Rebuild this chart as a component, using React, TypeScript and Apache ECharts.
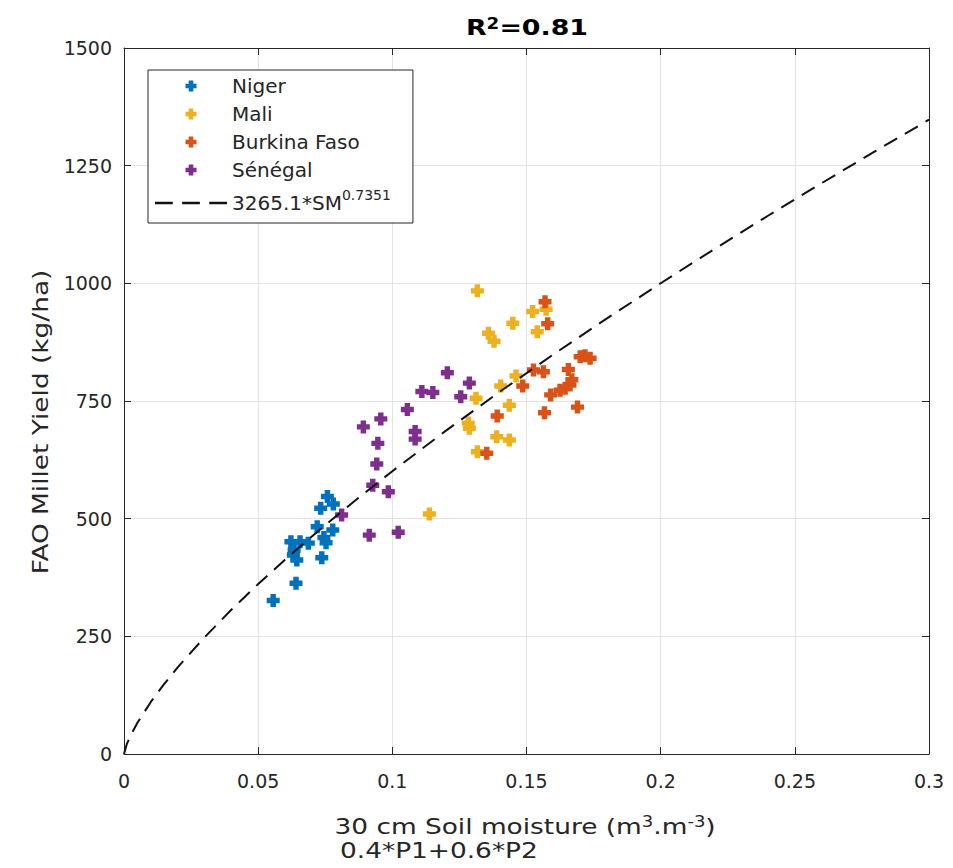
import React, { useEffect, useRef } from "react";
import * as echarts from "echarts";

const countries = ["Niger", "Mali", "Burkina Faso", "Sénégal"];
const colors = ["#0072BD", "#EDB120", "#D95319", "#7E2F8E"];
const fitName = "3265.1*SM^0.7351";

const nigerX = [0.0556, 0.0641, 0.0622, 0.0656, 0.0687, 0.0631, 0.0644, 0.0634, 0.0737, 0.072, 0.0733, 0.0758, 0.078, 0.0778, 0.0745, 0.0753];
const nigerY = [326, 363, 451, 451, 448, 423, 412, 433, 417, 483, 522, 547, 531, 476, 460, 449];

const maliX = [0.1317, 0.1358, 0.1379, 0.1449, 0.1523, 0.1573, 0.154, 0.1461, 0.1404, 0.1312, 0.1436, 0.1283, 0.1287, 0.1389, 0.1436, 0.1317, 0.1138];
const maliY = [984, 894, 877, 915, 940, 945, 897, 803, 782, 756, 741, 703, 692, 674, 667, 642, 510];

const burkinaX = [0.1569, 0.1579, 0.1526, 0.1563, 0.1486, 0.1391, 0.1567, 0.1352, 0.17, 0.1718, 0.1737, 0.1656, 0.1669, 0.1662, 0.1644, 0.1625, 0.159, 0.169];
const burkinaY = [961, 914, 816, 812, 782, 718, 725, 639, 844, 846, 841, 817, 795, 784, 777, 773, 763, 737];

const senegalX = [0.0811, 0.0914, 0.1022, 0.0927, 0.0985, 0.0942, 0.0946, 0.0892, 0.0957, 0.1085, 0.1085, 0.1056, 0.111, 0.1151, 0.1255, 0.1205, 0.1287];
const senegalY = [508, 465, 471, 571, 557, 616, 660, 695, 712, 685, 669, 732, 770, 768, 759, 810, 788];

// Fitted curve values (3265.1*SM^0.7351)
const fitX = [0, 0.001, 0.0025, 0.005, 0.01, 0.015, 0.02, 0.03, 0.04, 0.05, 0.06, 0.07, 0.08, 0.09, 0.1, 0.12, 0.14, 0.16, 0.18, 0.2, 0.22, 0.24, 0.26, 0.28, 0.3];
const fitY = [0, 20.3, 39.9, 66.4, 110.6, 149.0, 184.0, 247.9, 306.5, 361.0, 412.9, 462.3, 509.8, 556.1, 600.9, 687.0, 769.5, 848.9, 925.6, 1000.2, 1072.8, 1143.6, 1212.9, 1280.8, 1347.6];

const xTicks = { min: 0, max: 0.3, interval: 0.05 };
const yTicks = { min: 0, max: 1500, interval: 250 };

const titleText = "R{sup|2}=0.81";
const xName = "30 cm Soil moisture (m{sup|3}.m{sup|-3})";
const xSubName = "0.4*P1+0.6*P2";
const yName = "FAO Millet Yield (kg/ha)";

const FONT = "'DejaVu Sans', sans-serif";
const INK = "#262626";
const PLUS = "path://M2.9,0H7.1V2.9H10V7.1H7.1V10H2.9V7.1H0V2.9H2.9Z";
const DASH_ICON = "path://M0,0H17V2.2H0Z M26,0H43V2.2H26Z M52,0H69V2.2H52Z";

const zip = (xs: number[], ys: number[]) => xs.map((x, i) => [x, ys[i]]);

export default function App() {
  const ref = useRef<HTMLDivElement>(null);
  useEffect(() => {
    document.body.style.margin = "0";
    const chart = echarts.init(ref.current!, null, { renderer: "svg" });
    const pts = [zip(nigerX, nigerY), zip(maliX, maliY), zip(burkinaX, burkinaY), zip(senegalX, senegalY)];
    const axisCommon = {
      axisLine: { show: true, onZero: false, lineStyle: { color: INK, width: 1 } },
      axisTick: { show: true, inside: true, length: 7, lineStyle: { color: INK } },
    };
    const supStyle = (size: number, bold = false) => ({
      fontSize: size,
      verticalAlign: "top",
      fontFamily: FONT,
      fontWeight: bold ? "bold" : "normal",
    });
    chart.setOption({
      animation: false,
      backgroundColor: "#fff",
      grid: { left: 124, right: 24, top: 48, bottom: 114, show: false },
      xAxis: [
        {
          type: "value",
          ...xTicks,
          position: "bottom",
          ...axisCommon,
          axisLabel: {
            fontSize: 19,
            color: INK,
            fontFamily: FONT,
            margin: 17,
            formatter: (v: number) => String(+v.toFixed(2)),
          },
          splitLine: { show: true, lineStyle: { color: "#e3e3e3" } },
        },
        {
          type: "value",
          ...xTicks,
          position: "top",
          ...axisCommon,
          axisLabel: { show: false },
          splitLine: { show: false },
        },
      ],
      yAxis: [
        {
          type: "value",
          ...yTicks,
          position: "left",
          ...axisCommon,
          axisLabel: {
            fontSize: 19,
            color: INK,
            fontFamily: FONT,
            margin: 12,
            formatter: (v: number) => String(v),
          },
          splitLine: { show: true, lineStyle: { color: "#e3e3e3" } },
        },
        {
          type: "value",
          ...yTicks,
          position: "right",
          ...axisCommon,
          axisLabel: { show: false },
          splitLine: { show: false },
        },
      ],
      legend: {
        orient: "vertical",
        left: 148,
        top: 70,
        padding: [6, 22, 5, 7],
        itemGap: 8,
        itemWidth: 72,
        itemHeight: 11,
        borderColor: INK,
        borderWidth: 1,
        backgroundColor: "#fff",
        data: [
          ...countries,
          { name: fitName, icon: DASH_ICON, textStyle: { lineHeight: 30 } },
        ],
        formatter: (name: string) => (name === fitName ? "3265.1*SM{sup|0.7351}" : name),
        textStyle: {
          fontSize: 20,
          color: INK,
          fontFamily: FONT,
          lineHeight: 20,
          rich: { sup: { ...supStyle(14), color: INK } },
        },
      },
      graphic: [
        {
          type: "text",
          x: 527,
          y: 27,
          scaleX: 1.22,
          style: {
            text: titleText,
            align: "center",
            verticalAlign: "middle",
            fontSize: 22,
            fontWeight: "bold",
            fill: "#000",
            fontFamily: FONT,
            rich: { sup: supStyle(15, true) },
          },
        },
        {
          type: "text",
          x: 525,
          y: 826,
          scaleX: 1.2,
          style: {
            text: xName,
            align: "center",
            verticalAlign: "middle",
            fontSize: 22,
            fill: INK,
            fontFamily: FONT,
            rich: { sup: supStyle(15) },
          },
        },
        {
          type: "text",
          x: 340,
          y: 850,
          scaleX: 1.2,
          style: { text: xSubName, align: "left", verticalAlign: "middle", fontSize: 22, fill: INK, fontFamily: FONT },
        },
        {
          type: "text",
          x: 40,
          y: 422,
          rotation: Math.PI / 2,
          scaleX: 1.2,
          style: { text: yName, align: "center", verticalAlign: "middle", fontSize: 22, fill: INK, fontFamily: FONT },
        },
      ],
      series: [
        ...countries.map((c, i) => ({
          type: "scatter",
          name: c,
          data: pts[i],
          symbol: PLUS,
          symbolSize: 13,
          symbolKeepAspect: true,
          itemStyle: { color: colors[i], opacity: 1 },
          z: 2 + i,
        })),
        {
          type: "line",
          name: fitName,
          data: zip(fitX, fitY),
          symbol: "none",
          smooth: false,
          lineStyle: { color: "#111", width: 2, type: [15, 9] },
          itemStyle: { color: "#111" },
          z: 10,
        },
      ],
    });
    return () => chart.dispose();
  }, []);
  return <div ref={ref} style={{ width: 953, height: 868 }} />;
}
